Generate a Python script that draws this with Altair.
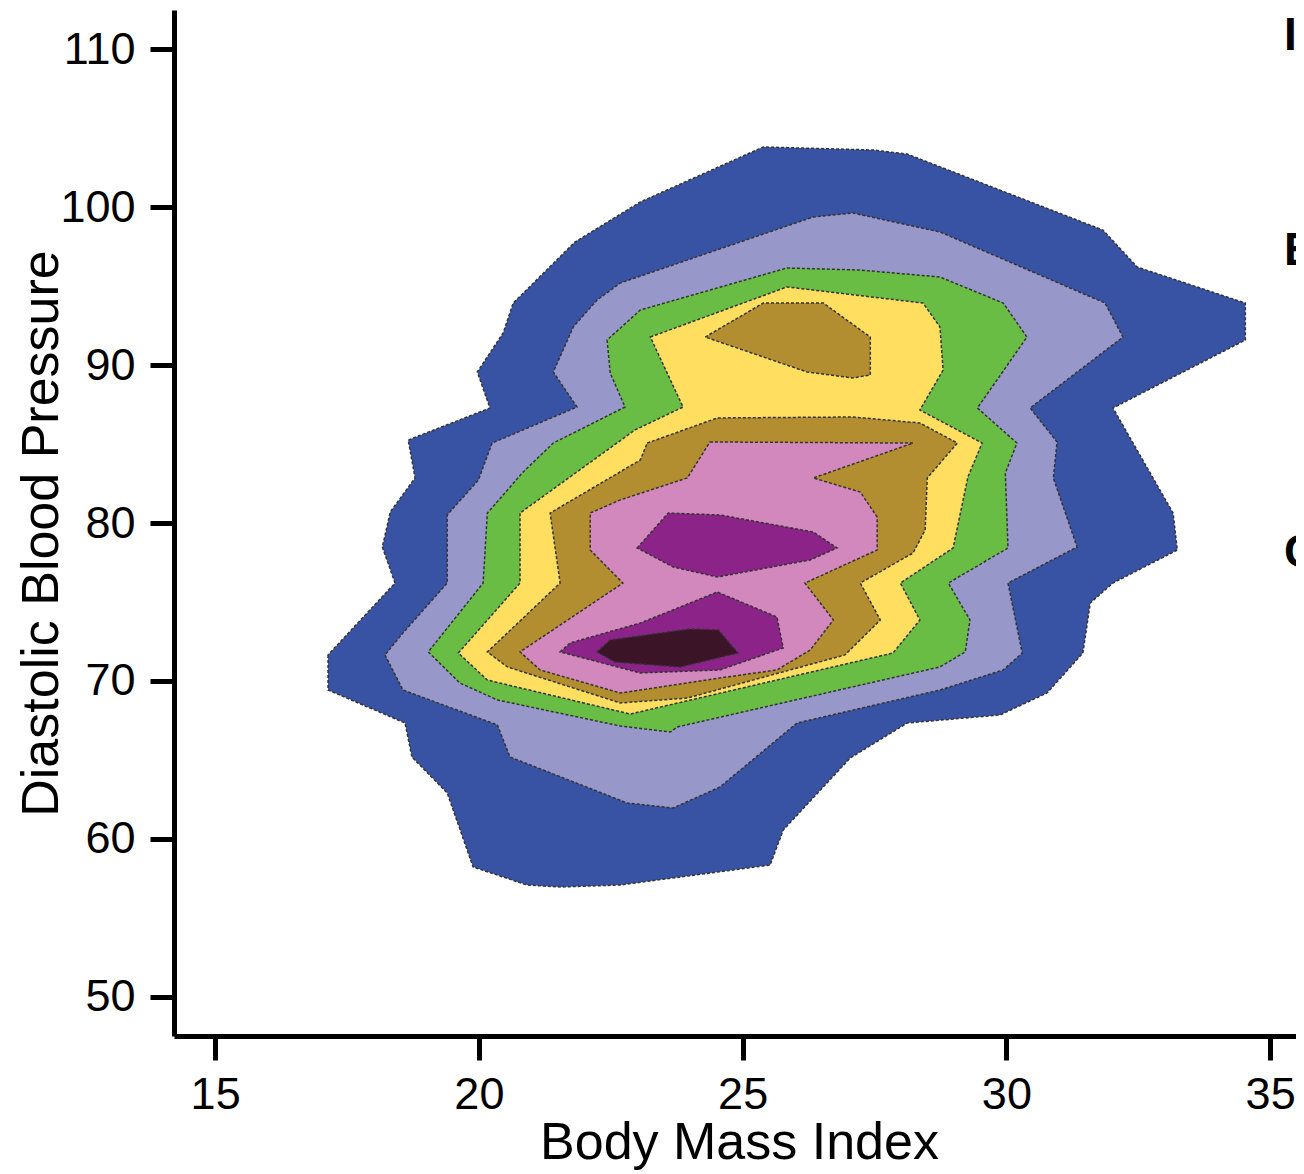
import altair as alt
import pandas as pd

# ---- contour polygons (Body Mass Index, Diastolic BP) ----
lvl1_bmi = [17.14, 17.14, 18.60, 18.73, 19.40, 19.89, 20.91, 21.54, 22.68, 25.52, 25.77, 27.04, 28.12, 29.88,
            30.77, 31.45, 31.59, 32.02, 33.24, 33.16, 32.02, 34.53, 34.53, 32.48, 31.83, 28.12, 27.47, 25.39,
            23.06, 21.82, 20.65, 20.46, 19.97, 20.21, 18.66, 18.79, 18.32, 18.17, 18.41]
lvl1_dbp = [71.65, 69.43, 67.34, 65.19, 62.91, 58.23, 57.09, 56.96, 57.09, 58.35, 60.57, 65.13, 67.34, 67.85,
            69.24, 71.77, 74.94, 76.20, 78.29, 80.63, 87.28, 91.58, 93.92, 96.20, 98.54, 103.35, 103.61, 103.80,
            100.32, 97.78, 93.92, 92.03, 89.56, 87.28, 85.25, 82.85, 80.70, 78.48, 76.20]

lvl2_bmi = [18.22, 18.56, 20.35, 20.59, 22.81, 23.68, 24.57, 26.03, 28.74, 29.94, 30.30, 30.03, 31.34, 30.89,
            30.96, 30.45, 32.21, 31.87, 28.74, 27.09, 26.34, 22.68, 22.24, 21.79, 21.41, 21.86, 20.25, 19.99,
            19.40, 19.40, 18.56]
lvl2_dbp = [71.65, 69.43, 67.22, 65.19, 62.28, 61.96, 63.29, 67.34, 69.43, 70.70, 71.77, 76.20, 78.48, 82.85,
            85.13, 87.28, 91.77, 93.92, 98.42, 99.62, 99.37, 95.19, 94.11, 92.41, 89.56, 87.34, 85.06, 82.72,
            80.51, 76.20, 73.04]

lvl3_bmi = [22.43, 22.49, 22.77, 21.41, 20.84, 20.16, 20.08, 19.04, 19.64, 20.35, 22.68, 23.63, 23.76, 28.74,
            29.22, 29.31, 28.90, 30.03, 29.98, 30.20, 29.45, 30.39, 29.94, 28.74, 27.23, 25.84, 23.06]
lvl3_dbp = [91.58, 89.49, 87.34, 85.06, 83.23, 80.63, 76.20, 71.84, 69.87, 68.80, 67.15, 66.77, 67.09, 70.89,
            71.84, 73.86, 76.20, 78.42, 83.16, 85.06, 87.28, 91.77, 93.92, 95.57, 96.01, 96.14, 93.48]

lvl4_bmi = [23.25, 25.84, 28.42, 28.74, 28.80, 28.36, 29.54, 29.27, 28.99, 27.99, 28.36, 27.85, 22.87, 20.16,
            19.61, 20.78, 20.78, 22.96, 23.87]
lvl4_dbp = [91.77, 94.94, 93.92, 92.41, 89.68, 87.15, 85.06, 82.91, 78.42, 76.20, 73.86, 71.77, 67.91, 70.06,
            71.77, 76.20, 80.63, 85.89, 87.34]

lvl5a_bmi = [24.29, 25.39, 26.53, 27.42, 27.42, 27.09, 26.22]
lvl5a_dbp = [91.77, 93.92, 93.92, 91.77, 89.37, 89.18, 89.56]

lvl5b_bmi = [23.19, 24.52, 27.09, 28.36, 29.07, 28.50, 28.46, 28.23, 27.23, 27.61, 26.94, 23.95, 22.68, 20.54,
             20.16, 21.54, 21.35, 23.06]
lvl5b_dbp = [85.06, 86.65, 86.71, 86.33, 85.06, 82.85, 79.56, 78.10, 76.20, 73.86, 71.65, 68.92, 68.61, 70.89,
             71.84, 76.20, 80.63, 83.99]

lvl6_bmi = [24.38, 28.23, 26.34, 27.23, 27.55, 27.55, 26.18, 26.72, 26.28, 25.65, 24.57, 22.68, 21.16, 20.78,
            22.73, 22.11, 22.11, 22.68, 23.95]
lvl6_dbp = [85.13, 85.06, 82.85, 81.96, 80.38, 78.29, 76.20, 73.86, 71.96, 70.70, 70.19, 69.24, 70.70, 71.84,
            76.20, 78.29, 80.63, 81.46, 82.85]

lvl7a_bmi = [23.00, 23.59, 24.57, 26.34, 26.79, 26.28, 24.52, 23.68]
lvl7a_dbp = [78.42, 80.63, 80.51, 79.43, 78.42, 77.66, 76.58, 77.22]

lvl7b_bmi = [21.54, 21.73, 23.06, 24.52, 25.65, 25.77, 24.57, 23.06]
lvl7b_dbp = [71.84, 72.41, 73.67, 75.63, 74.05, 72.09, 70.70, 70.51]

lvl8_bmi = [22.24, 22.49, 24.00, 24.54, 24.91, 23.82, 22.58]
lvl8_dbp = [71.84, 72.59, 73.29, 73.23, 71.77, 70.89, 71.20]

x_ticks = [15, 20, 25, 30, 35]
y_ticks = [50, 60, 70, 80, 90, 100, 110]
side_letters = ["I", "E", "C"]

polygons = [
    (lvl1_bmi, lvl1_dbp, "#3953a4"),
    (lvl2_bmi, lvl2_dbp, "#9897ca"),
    (lvl3_bmi, lvl3_dbp, "#69bd45"),
    (lvl4_bmi, lvl4_dbp, "#ffde60"),
    (lvl5a_bmi, lvl5a_dbp, "#b38e31"),
    (lvl5b_bmi, lvl5b_dbp, "#b38e31"),
    (lvl6_bmi, lvl6_dbp, "#d288bc"),
    (lvl7a_bmi, lvl7a_dbp, "#8c2388"),
    (lvl7b_bmi, lvl7b_dbp, "#8c2388"),
    (lvl8_bmi, lvl8_dbp, "#3c1428"),
]

x_enc = alt.X(
    "bmi:Q",
    scale=alt.Scale(domain=[14.22, 35.49], nice=False, zero=False),
    axis=alt.Axis(values=x_ticks, title="Body Mass Index", labelPadding=12,
                  titleX=565, titleY=122, titleBaseline="alphabetic", titleAlign="center"),
)
y_enc = alt.Y(
    "dbp:Q",
    scale=alt.Scale(domain=[47.53, 112.47], nice=False, zero=False),
    axis=alt.Axis(values=y_ticks, title="Diastolic Blood Pressure", labelPadding=15,
                  titleX=-117, titleY=523, titleAngle=270, titleBaseline="alphabetic",
                  titleAlign="center"),
)

layers = []
for xs, ys, col in polygons:
    df = pd.DataFrame({"bmi": xs, "dbp": ys, "i": list(range(len(xs)))})
    layers.append(
        alt.Chart(df)
        .mark_line(interpolate="linear-closed", fill=col, stroke="#333333",
                   strokeWidth=1.5, strokeDash=[3, 2])
        .encode(x=x_enc, y=y_enc, order=alt.Order("i:Q"))
    )

letter_y = [40, 255, 557]
for t, py in zip(side_letters, letter_y):
    layers.append(
        alt.Chart(pd.DataFrame({"t": [t]}))
        .mark_text(align="left", baseline="alphabetic", font="Liberation Sans",
                   fontSize=46, fontWeight="bold", color="black")
        .encode(x=alt.value(1110), y=alt.value(py), text="t:N")
    )

chart = (
    alt.layer(*layers)
    .properties(width=1122, height=1026,
                padding={"left": 166, "top": 2, "right": 0, "bottom": 136},
                autosize=alt.AutoSizeParams(type="none"))
    .configure_view(stroke=None)
    .configure_axis(grid=False, domainColor="black", domainWidth=5, tickColor="black",
                    tickWidth=5, tickSize=24, labelFont="Liberation Sans", labelFontSize=45,
                    labelColor="black", titleFont="Liberation Sans", titleFontSize=52,
                    titleColor="black", titleFontWeight="normal")
)

chart.save("out.html", embed_options={"renderer": "svg", "actions": False})
